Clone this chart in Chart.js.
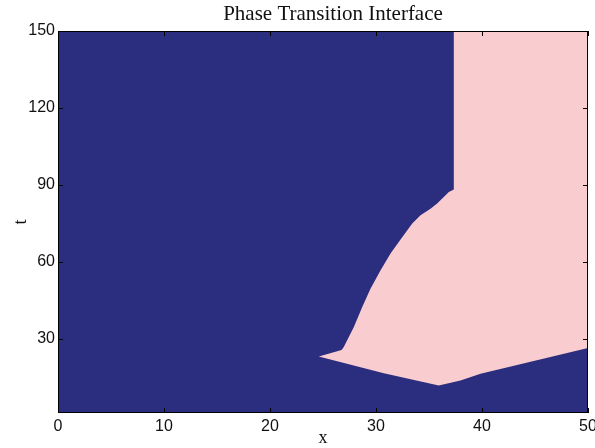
<!DOCTYPE html>
<html>
<head>
<meta charset="utf-8">
<script src="https://cdn.jsdelivr.net/npm/chart.js@4.4.1/dist/chart.umd.min.js"></script>
<style>
  html, body { margin: 0; padding: 0; background: #ffffff; }
  #wrap { width: 595px; height: 448px; position: relative; }
</style>
</head>
<body>
<div id="wrap"><canvas id="c" width="595" height="448"></canvas></div>
<script>
// ---- data ----
const titleText = 'Phase Transition Interface';
const xLabel = 'x';
const yLabel = 't';
const xTicks = [0, 10, 20, 30, 40, 50];
const yTicks = [30, 60, 90, 120, 150];

// upper edge of the pink phase (interface curve, then vertical front, then top)
const xUpper = [24.60, 26.75, 26.96, 27.91, 28.70, 29.48, 30.42, 31.37, 32.47, 33.42, 34.20, 35.14, 35.77, 36.87, 37.34, 37.34, 50.0];
const tUpper = [23.0, 25.6, 26.7, 34.5, 42.3, 49.5, 56.6, 63.2, 69.6, 74.9, 78.1, 80.7, 82.7, 87.2, 88.2, 150.0, 150.0];

// lower edge of the pink phase
const xLower = [24.60, 30.74, 35.92, 37.97, 39.86, 50.0];
const tLower = [23.0, 16.5, 11.7, 13.7, 16.3, 26.4];

const DARK = 'rgb(43,45,126)';
const PINK = 'rgb(249,204,207)';

const toPts = (xs, ys) => xs.map((v, i) => ({ x: v, y: ys[i] }));

const framePlugin = {
  id: 'frame',
  afterLayout(chart) {
    if (chart.titleBlock) { chart.titleBlock.left += 20; }
  },
  beforeDatasetsDraw(chart) {
    const { ctx, chartArea: a } = chart;
    ctx.save();
    ctx.fillStyle = DARK;
    ctx.fillRect(a.left, a.top, a.right - a.left, a.bottom - a.top);
    ctx.restore();
  },
  afterDatasetsDraw(chart) {
    const { ctx, chartArea: a, scales } = chart;
    const sx = scales.x, sy = scales.y;
    ctx.save();
    ctx.strokeStyle = '#000';
    ctx.lineWidth = 1;
    ctx.strokeRect(a.left + 0.5, a.top + 0.5, a.right - a.left - 1, a.bottom - a.top - 1);
    ctx.beginPath();
    const L = 5;
    sx.ticks.forEach(t => {
      const p = Math.round(sx.getPixelForValue(t.value)) + 0.5;
      ctx.moveTo(p, a.bottom); ctx.lineTo(p, a.bottom - L);
      ctx.moveTo(p, a.top); ctx.lineTo(p, a.top + L);
    });
    sy.ticks.forEach(t => {
      const p = Math.round(sy.getPixelForValue(t.value)) + 0.5;
      ctx.moveTo(a.left, p); ctx.lineTo(a.left + L, p);
      ctx.moveTo(a.right, p); ctx.lineTo(a.right - L, p);
    });
    ctx.stroke();
    ctx.restore();
  }
};

new Chart(document.getElementById('c'), {
  type: 'line',
  data: {
    datasets: [
      {
        data: toPts(xUpper, tUpper),
        borderWidth: 0,
        borderColor: PINK,
        backgroundColor: PINK,
        pointRadius: 0,
        tension: 0,
        fill: '+1'
      },
      {
        data: toPts(xLower, tLower),
        borderWidth: 0,
        borderColor: PINK,
        backgroundColor: PINK,
        pointRadius: 0,
        tension: 0,
        fill: false
      }
    ]
  },
  options: {
    responsive: false,
    animation: false,
    events: [],
    layout: { padding: { left: 0, right: 7, top: 0, bottom: 0 } },
    plugins: {
      legend: { display: false },
      tooltip: { enabled: false },
      title: {
        display: true,
        text: titleText,
        fullSize: false,
        color: '#111',
        font: { family: '"Liberation Serif", "Times New Roman", serif', size: 21, weight: 'normal', lineHeight: 1.2 },
        padding: { top: 2, bottom: 3.8 }
      }
    },
    scales: {
      x: {
        type: 'linear',
        min: 0,
        max: 50,
        afterBuildTicks: s => { s.ticks = xTicks.map(v => ({ value: v })); },
        afterFit: s => { s.height = 35; s.paddingLeft = 0; s.paddingRight = 0; },
        grid: { display: false, drawTicks: false },
        border: { display: false },
        ticks: {
          color: '#111',
          padding: 4,
          maxRotation: 0,
          autoSkip: false,
          font: { family: '"Liberation Sans", Arial, sans-serif', size: 16 }
        },
        title: {
          display: true,
          text: xLabel,
          color: '#111',
          padding: { top: 0, bottom: 0 },
          font: { family: '"Liberation Serif", "Times New Roman", serif', size: 18, lineHeight: 1.1 }
        }
      },
      y: {
        type: 'linear',
        min: 1,
        max: 150,
        afterBuildTicks: s => { s.ticks = yTicks.map(v => ({ value: v })); },
        afterFit: s => { s.width = 58; s.paddingTop = 0; s.paddingBottom = 0; },
        grid: { display: false, drawTicks: false },
        border: { display: false },
        ticks: {
          color: '#111',
          padding: 3,
          autoSkip: false,
          font: { family: '"Liberation Sans", Arial, sans-serif', size: 16 }
        },
        title: {
          display: true,
          text: yLabel,
          color: '#111',
          padding: { top: 10, bottom: 0 },
          font: { family: '"Liberation Serif", "Times New Roman", serif', size: 18, lineHeight: 1.2 }
        }
      }
    }
  },
  plugins: [framePlugin]
});
</script>
</body>
</html>
